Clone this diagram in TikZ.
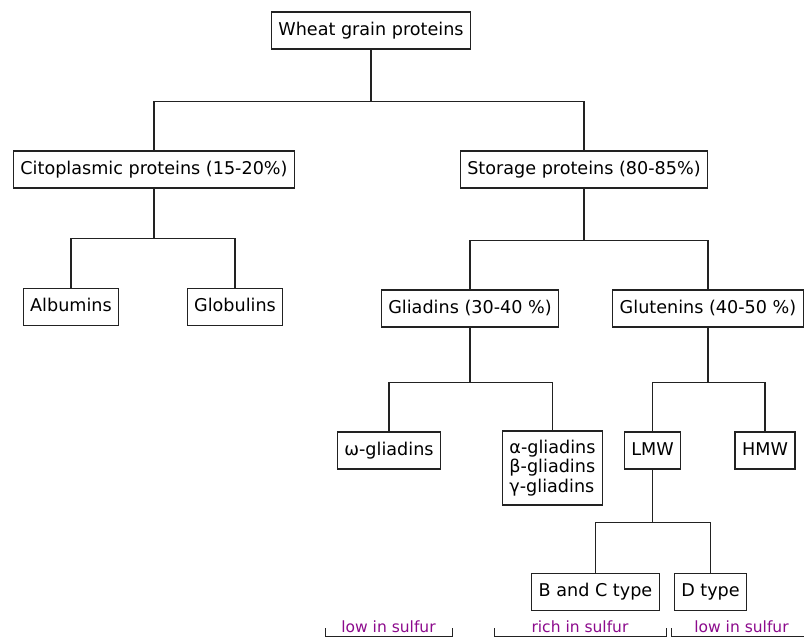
\documentclass[tikz,border=0pt]{standalone}
\usepackage{fontspec}
\setmainfont{DejaVu Sans}
\usepackage{xcolor}
\usetikzlibrary{calc,positioning}
\definecolor{boxstroke}{RGB}{34,34,34}
\definecolor{sulfurtag}{RGB}{140,10,140}
\tikzset{
  protframe/.style={draw=boxstroke, line width=1.2pt, fill=white,
                    inner xsep=7pt, font=\fontsize{17.6}{19.5}\selectfont},
  protbox/.style={protframe, inner ysep=0pt, minimum height=37pt,
                  text height=13pt, text depth=4pt},
  protbox multi/.style={protframe, align=left, inner ysep=9pt},
  branch/.style={draw=boxstroke, line width=1.2pt},
  sulfurline/.style={draw=boxstroke, line width=1pt},
  sulfurlabel/.style={anchor=base, text=sulfurtag, inner sep=0pt,
                      font=\fontsize{15.5}{18}\selectfont},
}

\begin{document}
\begin{tikzpicture}[x=1pt, y=-1pt]
\useasboundingbox (0,0) rectangle (804,637);
% Protein families, top to bottom. Positions are given in pixels of the
% original chart (y runs downwards).
\node[protbox] (wheat)     at (371, 30.5)  {Wheat grain proteins};
\node[protbox] (cito)      at (154, 169.5) {Citoplasmic proteins (15-20\%)};
\node[protbox] (storage)   at (584, 169.5) {Storage proteins (80-85\%)};
\node[protbox] (albumins)  at (71, 307)    {Albumins};
\node[protbox] (globulins) at (235, 307)   {Globulins};
\node[protbox] (gliadins)  at (470, 308.5) {Gliadins (30-40 \%)};
\node[protbox] (glutenins) at (708, 308.5) {Glutenins (40-50 \%)};
\node[protbox] (omega)     at (389, 450.5) {ω-gliadins};
\node[protbox multi] (abg) at (552.5, 468) {α-gliadins\\β-gliadins\\γ-gliadins};
\node[protbox] (lmw)       at (652.5, 450.5) {LMW};
\node[protbox] (hmw)       at (765, 450.5)   {HMW};
\node[protbox] (bctype)    at (595.5, 592)   {B and C type};
\node[protbox] (dtype)     at (710.5, 592)   {D type};
% Tree branches: drop from the parent, run across, drop to the child.
\foreach \child in {cito, storage}
  \draw[branch] (wheat.south) -- ++(0,52) -| (\child.north);
\foreach \child in {albumins, globulins}
  \draw[branch] (cito.south) -- ++(0,50) -| (\child.north);
\foreach \child in {gliadins, glutenins}
  \draw[branch] (storage.south) -- ++(0,52) -| (\child.north);
\foreach \child in {omega, abg}
  \draw[branch] (gliadins.south) -- ++(0,55) -| (\child.north);
\foreach \child in {lmw, hmw}
  \draw[branch] (glutenins.south) -- ++(0,55) -| (\child.north);
\foreach \child in {bctype, dtype}
  \draw[branch] (lmw.south) -- ++(0,53) -| (\child.north);
% Sulfur content brackets along the bottom edge
\foreach \xl/\xr/\txt [count=\k] in {325/452/low in sulfur,
                                     494/666/rich in sulfur,
                                     671/812/low in sulfur} {
  \draw[sulfurline] (\xl,628) |- (\xr,636) -- (\xr,628);
  \node[sulfurlabel] (sulfur\k) at ({(\xl+\xr)/2}, 632) {\txt};
}
\end{tikzpicture}
\end{document}
